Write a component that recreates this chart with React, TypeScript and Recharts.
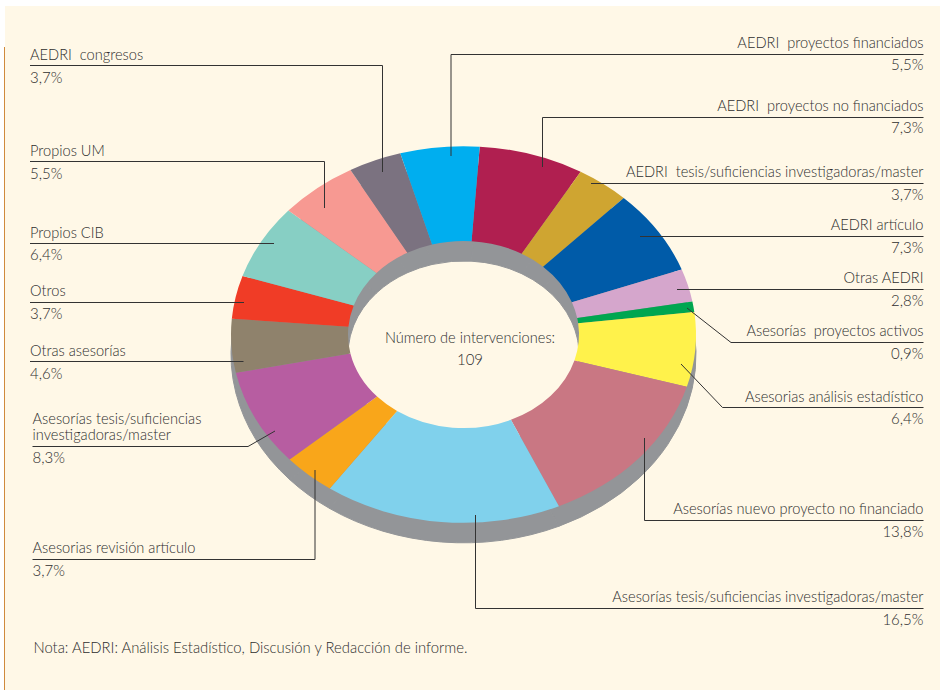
import React from 'react'
import { PieChart, Pie, Cell } from 'recharts'

const categories = [
  'AEDRI proyectos no financiados', 'AEDRI tesis/suficiencias investigadoras/master', 'AEDRI artículo', 'Otras AEDRI',
  'Asesorías proyectos activos', 'Asesorias análisis estadístico', 'Asesorías nuevo proyecto no financiado',
  'Asesorías tesis/suficiencias investigadoras/master', 'Asesorias revisión artículo',
  'Asesorías tesis/suficiencias investigadoras/master', 'Otras asesorías', 'Otros', 'Propios CIB', 'Propios UM',
  'AEDRI congresos', 'AEDRI proyectos financiados',
]
const shares = [7.3, 3.7, 7.3, 2.8, 0.9, 6.4, 13.8, 16.5, 3.7, 8.3, 4.6, 3.7, 6.4, 5.5, 3.7, 5.5]
const colors = [
  '#B01F50', '#CFA531', '#005BA8', '#D5A6CC', '#00A650', '#FFF24B', '#C97783', '#80D1EC',
  '#F9A61A', '#B75DA1', '#8F826C', '#F03C26', '#87CFC4', '#F79992', '#7B7280', '#00AEEF',
]

const data = categories.map((name, i) => ({ name, value: shares[i] }))

const BG = '#FFF8E7'
const INK = '#2E2E2E'
const CX = 463.5
const CY = 334.5
const TILT = 0.81
const FONT = 'Lato, "Open Sans", sans-serif'

// recharts only does circles, so squash the sector into an ellipse here
const EllipseSector = (props: any) => {
  const { cx, cy, innerRadius, outerRadius, startAngle, endAngle, fill } = props
  const pt = (r: number, deg: number) => {
    const a = (deg * Math.PI) / 180
    return `${cx + r * Math.cos(a)} ${cy - r * TILT * Math.sin(a)}`
  }
  const large = Math.abs(endAngle - startAngle) > 180 ? 1 : 0
  const d = [
    `M ${pt(outerRadius, startAngle)}`,
    `A ${outerRadius} ${outerRadius * TILT} 0 ${large} 1 ${pt(outerRadius, endAngle)}`,
    `L ${pt(innerRadius, endAngle)}`,
    `A ${innerRadius} ${innerRadius * TILT} 0 ${large} 0 ${pt(innerRadius, startAngle)}`,
    'Z',
  ].join(' ')
  return <path d={d} fill={fill} stroke={props.stroke} strokeWidth={props.strokeWidth} />
}

// the original face is a bit narrower than Lato Light, so text gets squeezed sideways
const Label = ({ x, y, k = 0.975, anchor = 'start', children }: any) => (
  <text transform={`translate(${x} ${y}) scale(${k} 1)`} textAnchor={anchor} xmlSpace="preserve">
    {children}
  </text>
)

type Note = { lines: string[]; pct: string; x: number; base: number[]; pctBase: number; anchor: 'start' | 'end'; path: string }

const notes: Note[] = [
  { lines: ['AEDRI  congresos'], pct: '3,7%', x: 30, base: [60], pctBase: 83, anchor: 'start', path: 'M30 65.5H382.5V172' },
  { lines: ['Propios UM'], pct: '5,5%', x: 30, base: [156], pctBase: 179, anchor: 'start', path: 'M30 161.5H324.5V208' },
  { lines: ['Propios CIB'], pct: '6,4%', x: 30, base: [238], pctBase: 260, anchor: 'start', path: 'M30 243.5H274' },
  { lines: ['Otros'], pct: '3,7%', x: 30, base: [296], pctBase: 319, anchor: 'start', path: 'M30 302.5H244' },
  { lines: ['Otras asesorías'], pct: '4,6%', x: 30, base: [356], pctBase: 379, anchor: 'start', path: 'M30 361.5H243.5' },
  { lines: ['Asesorías tesis/suficiencias', 'investigadoras/master'], pct: '8,3%', x: 32.5, base: [424, 440], pctBase: 463, anchor: 'start', path: 'M32.5 446.5H248L275 431' },
  { lines: ['Asesorias revisión artículo'], pct: '3,7%', x: 32.5, base: [553], pctBase: 576, anchor: 'start', path: 'M32.5 559.5H315V470' },
  { lines: ['AEDRI  proyectos financiados'], pct: '5,5%', x: 923.5, base: [48], pctBase: 70, anchor: 'end', path: 'M923.5 54.5H451V156' },
  { lines: ['AEDRI  proyectos no financiados'], pct: '7,3%', x: 923.5, base: [111], pctBase: 133, anchor: 'end', path: 'M923.5 117.5H542.5V167' },
  { lines: ['AEDRI  tesis/suficiencias investigadoras/master'], pct: '3,7%', x: 923.5, base: [177], pctBase: 200, anchor: 'end', path: 'M923.5 183.5H591' },
  { lines: ['AEDRI artículo'], pct: '7,3%', x: 923.5, base: [230], pctBase: 253, anchor: 'end', path: 'M923.5 236.5H640' },
  { lines: ['Otras AEDRI'], pct: '2,8%', x: 923.5, base: [283], pctBase: 306, anchor: 'end', path: 'M923.5 289.5H677' },
  { lines: ['Asesorías  proyectos activos'], pct: '0,9%', x: 923.5, base: [336], pctBase: 359, anchor: 'end', path: 'M923.5 342.5H731L687 308' },
  { lines: ['Asesorias análisis estadístico'], pct: '6,4%', x: 923.5, base: [402], pctBase: 424, anchor: 'end', path: 'M923.5 407.5H722.5L681 364' },
  { lines: ['Asesorías nuevo proyecto no financiado'], pct: '13,8%', x: 923.5, base: [514], pctBase: 537, anchor: 'end', path: 'M923.5 520.5H644.5V438' },
  { lines: ['Asesorías tesis/suficiencias investigadoras/master'], pct: '16,5%', x: 923.5, base: [602], pctBase: 625, anchor: 'end', path: 'M923.5 608.5H475.5V515' },
]

export default function App() {
  return (
    <div style={{ position: 'absolute', left: 0, top: 0, width: 940, height: 690, background: '#fff', overflow: 'hidden' }}>
      <div style={{ position: 'absolute', left: 5, top: 6, right: 0, bottom: 0, background: BG }} />
      <div style={{ position: 'absolute', left: 4, top: 47, bottom: 0, width: 1, background: '#D08A3C' }} />
      <div style={{ position: 'absolute', left: 0, top: 0 }}>
        <PieChart width={940} height={690} margin={{ top: 0, right: 0, bottom: 0, left: 0 }}>
          {/* grey thickness, same ring pushed down */}
          <Pie
            data={data}
            dataKey="value"
            cx={CX}
            cy={CY + 20}
            innerRadius={115.5}
            outerRadius={232.5}
            startAngle={86}
            endAngle={-274}
            stroke="#939598"
            strokeWidth={1}
            shape={EllipseSector}
            isAnimationActive={false}
          >
            {data.map((d, i) => (
              <Cell key={i} fill="#939598" />
            ))}
          </Pie>
          <Pie
            data={data}
            dataKey="value"
            cx={CX}
            cy={CY}
            innerRadius={115.5}
            outerRadius={232.5}
            startAngle={86}
            endAngle={-274}
            stroke="none"
            shape={EllipseSector}
            isAnimationActive={false}
          >
            {data.map((d, i) => (
              <Cell key={i} fill={colors[i]} />
            ))}
          </Pie>
        </PieChart>
      </div>
      <svg width={940} height={690} style={{ position: 'absolute', left: 0, top: 0 }} fontFamily={FONT} fontSize={15} fontWeight={300} fill={INK}>
        {notes.map((n) => (
          <g key={n.lines.join() + n.pct}>
            <path d={n.path} fill="none" stroke="#333" strokeWidth={1} />
            {n.lines.map((t, i) => (
              <Label key={t} x={n.x} y={n.base[i]} anchor={n.anchor}>{t}</Label>
            ))}
            <Label x={n.x} y={n.pctBase} k={1} anchor={n.anchor}>{n.pct}</Label>
          </g>
        ))}
        <Label x={470} y={342.5} anchor="middle">Número de intervenciones:</Label>
        <Label x={470} y={365} k={1} anchor="middle">109</Label>
        <Label x={33.5} y={653} k={0.99}>Nota: AEDRI: Análisis Estadístico, Discusión y Redacción de informe.</Label>
      </svg>
    </div>
  )
}
